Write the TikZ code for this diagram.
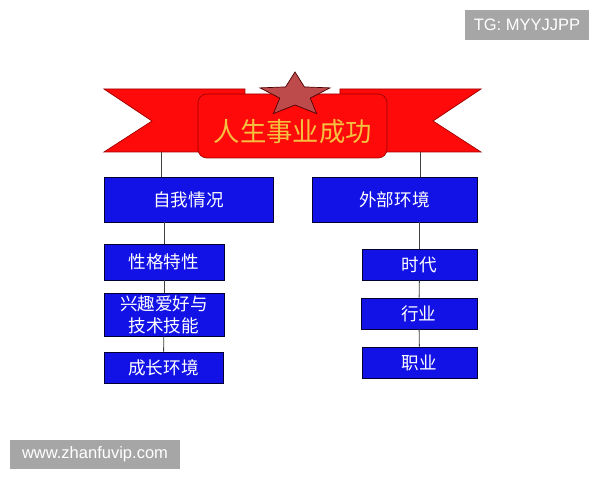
\documentclass[tikz,border=0pt]{standalone}
\usepackage{fontspec}
\newfontfamily\cjk{Noto Sans CJK SC}
\newfontfamily\wmfont{Liberation Sans}
\definecolor{ribbonred}{HTML}{FF0A0A}
\definecolor{ribbonline}{HTML}{A00000}
\definecolor{starred}{HTML}{BE4B4B}
\definecolor{titleyellow}{HTML}{F4C040}
\definecolor{boxblue}{HTML}{1212E6}
\definecolor{wmgray}{HTML}{A6A6A6}

\begin{document}
\begin{tikzpicture}[x=0.02cm, y=-0.02cm,
		box/.style={draw=black!80!blue, fill=boxblue, text=white, inner sep=0pt, font=\cjk\fontsize{10}{12.5}\selectfont, align=center},
		link/.style={draw=black!75, line width=0.5pt},
		wm/.style={fill=wmgray, text=white, inner sep=0pt, font=\wmfont\fontsize{9.4}{11}\selectfont}]
			\useasboundingbox (0,0) rectangle (600,480);

			% ribbon
			\draw[fill=ribbonred, draw=ribbonline] (104,89) -- (245,89) -- (245,152) -- (104,152) -- (152,121) -- cycle;
			\draw[fill=ribbonred, draw=ribbonline] (481,89) -- (340,89) -- (340,152) -- (481,152) -- (433,121) -- cycle;
			\draw[fill=ribbonred, draw=ribbonline, rounded corners=5pt] (198,94) -- (387,94) -- (387,158) -- (198,158) -- cycle;
			\draw[fill=starred, draw=black!70!red, shift={(295,95)}, xscale=1.6]
				(270:23) -- (306:10) -- (342:23) -- (18:10) -- (54:23) -- (90:10) -- (126:23) -- (162:10) -- (198:23) -- (234:10) -- cycle;
			\draw node[text=titleyellow, font=\cjk\fontsize{15}{18}\selectfont] (title) at (293,132) {人生事业成功};
			\coordinate (lw) at (161,152);
			\coordinate (rw) at (420,152);

			% boxes
			\draw node[box, minimum width=3.38cm, minimum height=0.90cm] (self) at (188.5,199.5) {自我情况};
			\draw node[box, minimum width=3.30cm, minimum height=0.90cm] (ext) at (394.5,199.5) {外部环境};
			\draw node[box, minimum width=2.40cm, minimum height=0.72cm] (xg) at (164,262) {性格特性};
			\draw node[box, minimum width=2.40cm, minimum height=0.86cm] (xq) at (164,314.5) {兴趣爱好与\\技术技能};
			\draw node[box, minimum width=2.38cm, minimum height=0.62cm] (cz) at (163.5,367.5) {成长环境};
			\draw node[box, minimum width=2.30cm, minimum height=0.62cm] (sd) at (419.5,264.5) {时代};
			\draw node[box, minimum width=2.32cm, minimum height=0.62cm] (hy) at (419,313.5) {行业};
			\draw node[box, minimum width=2.30cm, minimum height=0.62cm] (zy) at (419.5,362.5) {职业};

			\draw[link] (lw) -- (lw |- self.north);
			\draw[link] (rw) -- (rw |- ext.north);
			\draw[link] (self.south -| xg) -- (xg.north);
			\draw[link] (xg) -- (xq);
			\draw[link] (xq) -- (cz);
			\draw[link] (ext.south -| sd) -- (sd.north);
			\draw[link] (sd) -- (hy);
			\draw[link] (hy) -- (zy);

			% watermarks
			\draw node[wm, minimum width=2.48cm, minimum height=0.60cm] (tg) at (527,25) {TG: MYYJJPP};
			\draw node[wm, minimum width=3.40cm, minimum height=0.58cm] (www) at (95,454.5) {www.zhanfuvip.com};
		\end{tikzpicture}
\end{document}
